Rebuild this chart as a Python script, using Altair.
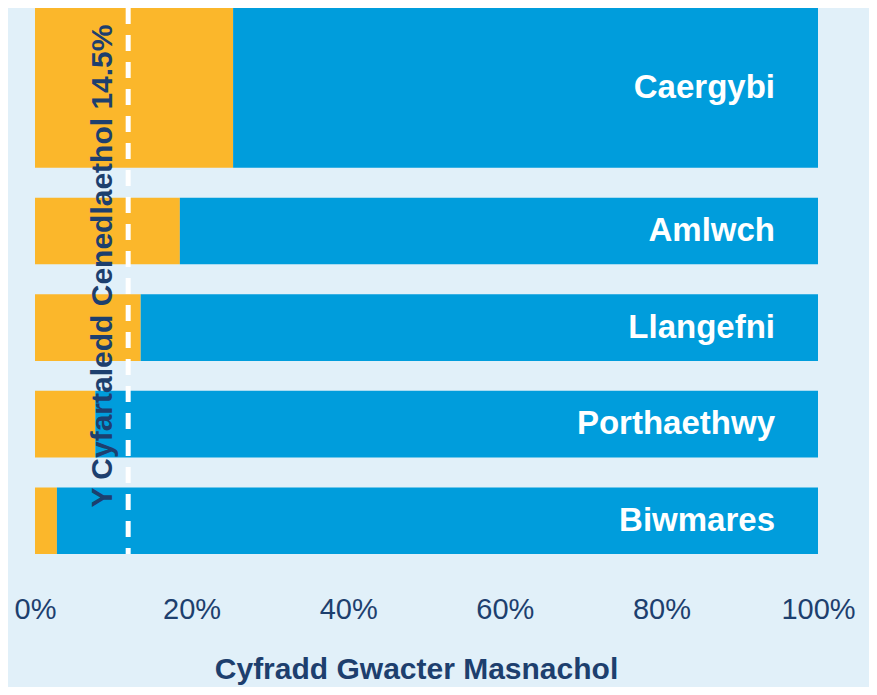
import altair as alt
import pandas as pd

# ---- data ----
towns = ["Caergybi", "Amlwch", "Llangefni", "Porthaethwy", "Biwmares"]
vacancy = [25.3, 18.5, 13.5, 7.7, 2.8]          # % commercial vacancy
row_weight = [2.4, 1, 1, 1, 1]                   # relative bar thickness
national_pos = [11.9]                            # where the dashed line sits
national_label = ["Y Cyfartaledd Cenedlaethol 14.5%"]
tick_values = [0, 20, 40, 60, 80, 100]
x_title = "Cyfradd Gwacter Masnachol"

ORANGE = "#FBB72B"
BLUE = "#009DDC"
BG = "#E1F0F9"
NAVY = "#1D3F6E"
FONT = "Liberation Sans"

gap = 0.45
rows = []
start = 0.0
for t, v, w in zip(towns, vacancy, row_weight):
    rows.append(dict(town=t, vacancy=v, zero=0, full=100,
                     y0=start, y1=start + w, ymid=start + w / 2))
    start += w + gap
total = start - gap
df = pd.DataFrame(rows)

line_df = pd.DataFrame({"x": national_pos, "y0": [0], "y1": [total],
                        "ymid": [total / 2], "label": national_label})

xscale = alt.Scale(domain=[0, 100], nice=False, zero=False)
yscale = alt.Scale(domain=[0, total], reverse=True, nice=False, zero=False)

base = alt.Chart(df)

orange = base.mark_rect(color=ORANGE).encode(
    x=alt.X("zero:Q", scale=xscale,
            axis=alt.Axis(values=tick_values, labelExpr="datum.value + '%'",
                          title=x_title, grid=False, domain=False, ticks=False,
                          labelFont=FONT, labelFontSize=29, labelColor=NAVY,
                          labelPadding=41, labelFlush=False,
                          titleFont=FONT, titleFontSize=30, titleFontWeight="bold",
                          titleColor=NAVY, titleX=381, titleY=115,
                          titleAlign="center", titleBaseline="middle")),
    x2="vacancy:Q",
    y=alt.Y("y0:Q", scale=yscale, axis=None),
    y2="y1:Q",
)

blue = base.mark_rect(color=BLUE).encode(
    x=alt.X("vacancy:Q", scale=xscale),
    x2="full:Q",
    y=alt.Y("y0:Q", scale=yscale, axis=None),
    y2="y1:Q",
)

labels = base.mark_text(align="right", baseline="middle", dx=-43, font=FONT,
                        fontSize=33, fontWeight="bold", color="white").encode(
    x=alt.X("full:Q", scale=xscale),
    y=alt.Y("ymid:Q", scale=yscale, axis=None),
    text="town:N",
)

rule = alt.Chart(line_df).mark_rule(color="white", strokeWidth=5,
                                    strokeDash=[16, 11]).encode(
    x=alt.X("x:Q", scale=xscale),
    y=alt.Y("y0:Q", scale=yscale, axis=None),
    y2="y1:Q",
)

rot = alt.Chart(line_df).mark_text(angle=270, align="center", baseline="middle",
                                   dx=15, dy=-25, font=FONT, fontSize=30,
                                   fontWeight="bold", color=NAVY).encode(
    x=alt.X("x:Q", scale=xscale),
    y=alt.Y("ymid:Q", scale=yscale, axis=None),
    text="label:N",
)

chart = alt.layer(orange, blue, rule, rot, labels).properties(
    width=783, height=546,
    autosize=alt.AutoSizeParams(type="none"),
    padding={"left": 27, "top": 0, "right": 51, "bottom": 133},
    background=BG,
).configure_view(stroke=None)

chart.save("out.html", embed_options={"renderer": "svg", "actions": False})
